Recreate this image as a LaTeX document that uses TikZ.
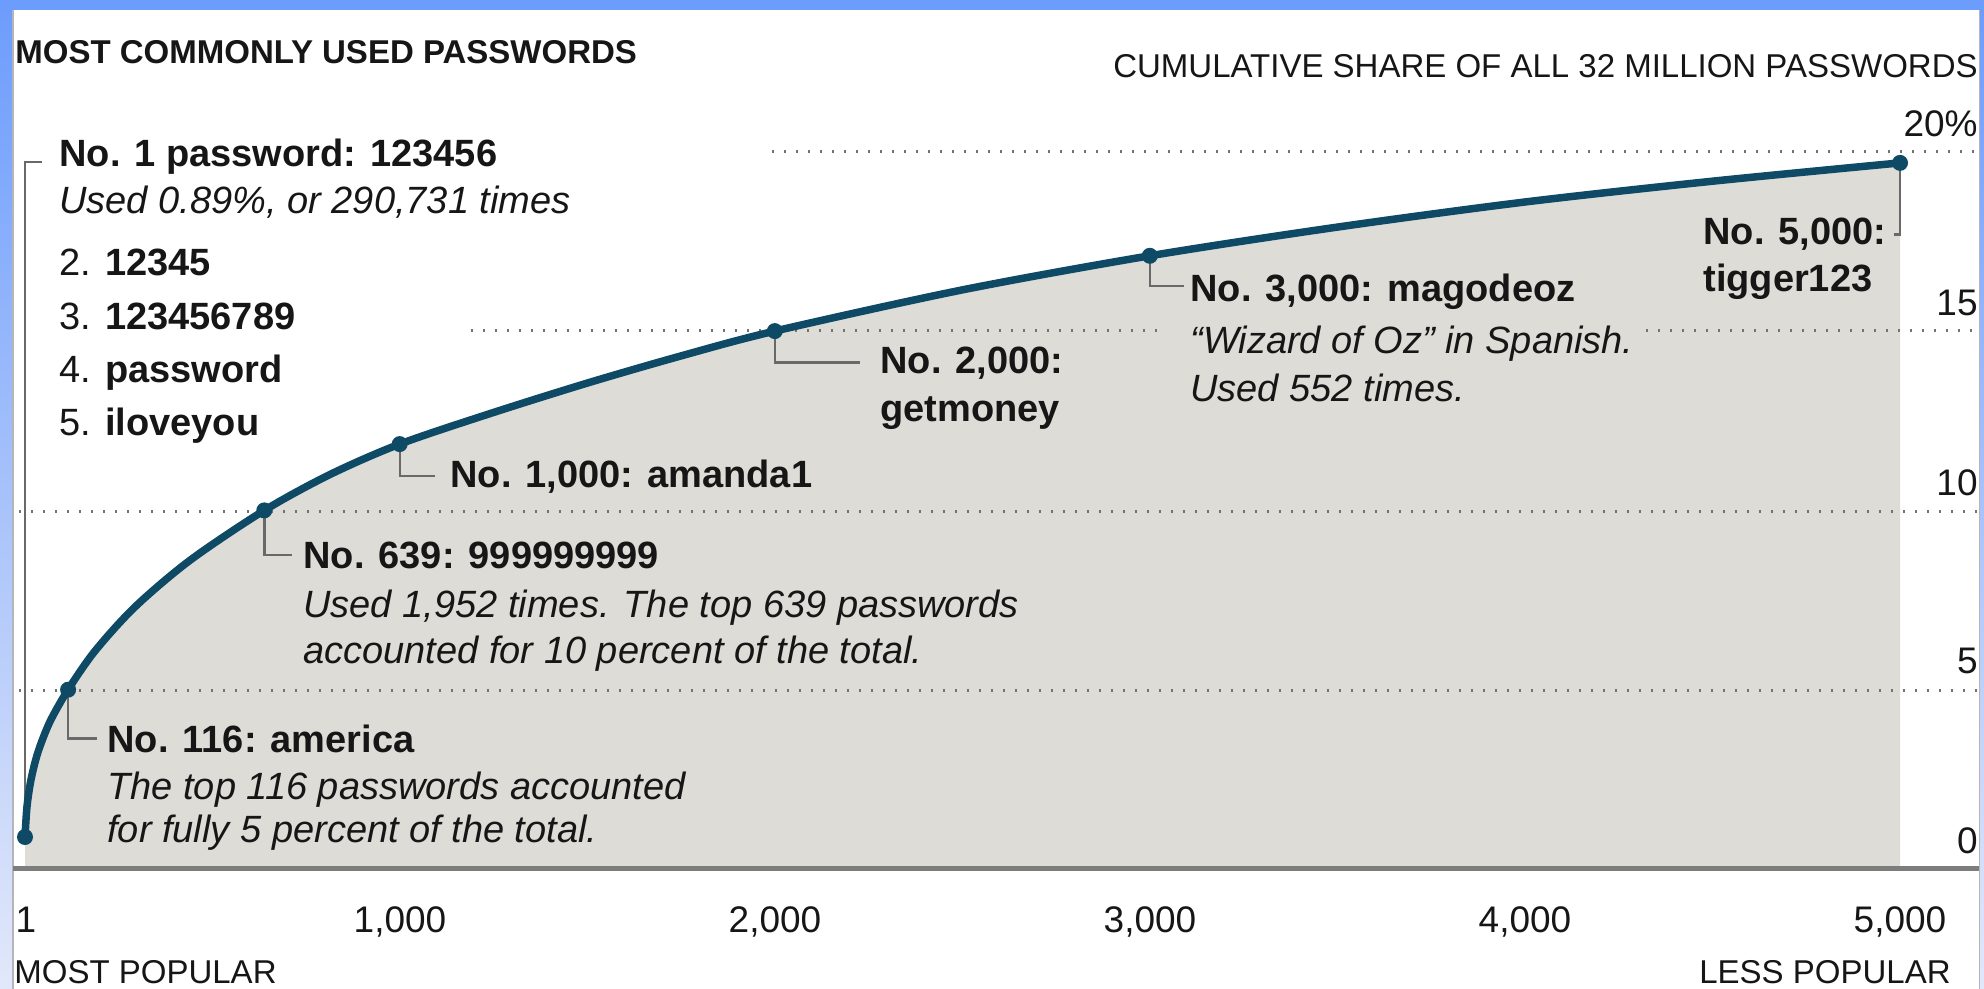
\documentclass[tikz,border=0pt]{standalone}
\usepackage{fontspec}
\setmainfont{Liberation Sans}
\usetikzlibrary{calc}
\definecolor{curvecol}{RGB}{14,74,102}
\definecolor{plotgray}{RGB}{222,220,214}
\definecolor{gridcol}{RGB}{115,115,115}
\definecolor{axiscol}{RGB}{125,125,125}
\definecolor{linkcol}{RGB}{105,105,105}
\definecolor{txtcol}{RGB}{22,22,22}
\definecolor{bluetop}{RGB}{108,156,252}
\definecolor{bluebot}{RGB}{226,232,250}
\definecolor{panelline}{RGB}{180,180,185}
\tikzset{
  every node/.style={inner sep=0pt, text=txtcol},
  annb/.style={anchor=base west, font=\fontsize{19}{22}\selectfont\bfseries},
  anni/.style={anchor=base west, font=\fontsize{19}{22}\selectfont\itshape},
  annr/.style={anchor=base west, font=\fontsize{19}{22}\selectfont},
  headb/.style={anchor=base west, font=\fontsize{16.5}{19}\selectfont\bfseries},
  headr/.style={anchor=base east, font=\fontsize{16.5}{19}\selectfont},
  ylab/.style={anchor=base east, font=\fontsize{18.5}{21}\selectfont},
  xlab/.style={anchor=base, font=\fontsize{18.5}{21}\selectfont},
  gridline/.style={draw=gridcol, line width=1.5pt, dash pattern=on 0.8pt off 5.2pt},
  curveline/.style={draw=curvecol, line width=3.75pt, line cap=round, line join=round},
  dotmark/.style={circle, fill=curvecol, minimum size=8pt},
  link/.style={draw=linkcol, line width=1.2pt},
}
\begin{document}
\begin{tikzpicture}[x=0.5pt,y=-0.5pt]
\useasboundingbox (0,0) rectangle (1984,989);
% background and frame
\fill[white] (0,0) rectangle (1984,989);
\shade[top color=bluetop, bottom color=bluebot] (0,0) rectangle (12,989);
\shade[top color=bluetop, bottom color=bluebot] (1980,0) rectangle (1984,989);
\fill[bluetop] (0,0) rectangle (1984,10);
\draw[panelline, line width=0.8pt] (13,10) -- (13,989);
\draw[panelline, line width=0.8pt] (1979.5,10) -- (1979.5,989);

% area under the curve
\fill[plotgray] plot[smooth] coordinates {(25,837.1) (27,806.6) (31,779.7) (38,752.1) (50,721.6) (68.1,689.7) (95,651.0) (135,606.9) (190,560.3) (264.3,510.4) (330,474.5) (399.7,444.1) (490,413.6) (587.2,383.1) (680,356.2) (774.8,331.1) (962.3,289.9) (1149.8,255.8) (1337.4,227.1) (1524.9,202.0) (1712.5,181.2) (1900,162.9)} -- (1900,867) -- (25,867) -- cycle;

% grid lines
\draw[gridline] (772,152) -- (1977,152);
\draw[gridline] (471,331) -- (1157,331);
\draw[gridline] (1646,331) -- (1977,331);
\draw[gridline] (19,511) -- (1977,511);
\draw[gridline] (19,690) -- (1977,690);

% axis
\draw[axiscol, line width=2.5pt] (13,868) -- (1979,868);

% title texts
\node[headb] (title) at (15,64) {MOST COMMONLY USED PASSWORDS};
\node[headr] (ytitle) at (1978,78) {CUMULATIVE SHARE OF ALL 32 MILLION PASSWORDS};

% y labels
\node[ylab] (y20) at (1978,137) {20\%};
\node[ylab] (y15) at (1978,316) {15};
\node[ylab] (y10) at (1978,495) {10};
\node[ylab] (y5) at (1978,673) {5};
\node[ylab] (y0) at (1978,853) {0};

% x labels
\node[xlab] (x1) at (26,932) {1};
\node[xlab] (x1000) at (400,932) {1,000};
\node[xlab] (x2000) at (775,932) {2,000};
\node[xlab] (x3000) at (1150,932) {3,000};
\node[xlab] (x4000) at (1525,932) {4,000};
\node[xlab] (x5000) at (1900,932) {5,000};
\node[headb, font=\fontsize{16.5}{19}\selectfont] (mostpop) at (14,983) {MOST POPULAR};
\node[headr] (lesspop) at (1951,983) {LESS POPULAR};

% annotation texts
\node[annb] (t1) at (59,167) {No. 1 password: 123456};
\node[anni] (t1b) at (59,214) {Used 0.89\%, or 290,731 times};
\node[annr] (l2) at (59,276) {2. \textbf{12345}};
\node[annr] (l3) at (59,329) {3. \textbf{123456789}};
\node[annr] (l4) at (59,382) {4. \textbf{password}};
\node[annr] (l5) at (59,435) {5. \textbf{iloveyou}};

\node[annb] (t116) at (107,752) {No. 116: america};
\node[anni] (t116b) at (107,799) {The top 116 passwords accounted};
\node[anni] (t116c) at (107,842) {for fully 5 percent of the total.};

\node[annb] (t639) at (303,568) {No. 639: 999999999};
\node[anni] (t639b) at (303,617) {Used 1,952 times. The top 639 passwords};
\node[anni] (t639c) at (303,663) {accounted for 10 percent of the total.};

\node[annb] (t1000) at (450,487) {No. 1,000: amanda1};

\node[annb] (t2000) at (880,373) {No. 2,000:};
\node[annb] (t2000b) at (880,421) {getmoney};

\node[annb] (t3000) at (1190,302) {No. 3,000: magodeoz};
\node[anni] (t3000b) at (1190,353) {“Wizard of Oz” in Spanish.};
\node[anni] (t3000c) at (1190,401) {Used 552 times.};

\node[annb] (t5000) at (1703,245) {No. 5,000:};
\node[annb] (t5000b) at (1703,292) {tigger123};

% data points (positions)
\coordinate (c1) at (25,837);
\coordinate (c116) at (68.1,689.7);
\coordinate (c639) at (264.3,510.4);
\coordinate (c1000) at (399.7,444.1);
\coordinate (c2000) at (774.8,331.1);
\coordinate (c3000) at (1149.8,255.8);
\coordinate (c5000) at (1900,162.9);

% connectors
\draw[link] (c1) |- ([xshift=-8.5pt,yshift=-2.5pt]t1.west);
\draw[link] (c116) |- ([xshift=-5pt]t116.west);
\draw[link] (c639) |- ([xshift=-5.5pt]t639.west);
\draw[link] (c1000) |- ([xshift=-7.5pt]t1000.west);
\draw[link] (c2000) |- ([xshift=-10pt]t2000.west);
\draw[link] (c3000) |- ([xshift=-3pt,yshift=3pt]t3000.west);
\draw[link] (c5000) |- ([xshift=3.5pt]t5000.east);

% curve
\draw[curveline] plot[smooth] coordinates {(25,837.1) (27,806.6) (31,779.7) (38,752.1) (50,721.6) (68.1,689.7) (95,651.0) (135,606.9) (190,560.3) (264.3,510.4) (330,474.5) (399.7,444.1) (490,413.6) (587.2,383.1) (680,356.2) (774.8,331.1) (962.3,289.9) (1149.8,255.8) (1337.4,227.1) (1524.9,202.0) (1712.5,181.2) (1900,162.9)};

% dots
\node[dotmark] (d1) at (c1) {};
\node[dotmark] (d116) at (c116) {};
\node[dotmark] (d639) at (c639) {};
\node[dotmark] (d1000) at (c1000) {};
\node[dotmark] (d2000) at (c2000) {};
\node[dotmark] (d3000) at (c3000) {};
\node[dotmark] (d5000) at (c5000) {};
\end{tikzpicture}
\end{document}
